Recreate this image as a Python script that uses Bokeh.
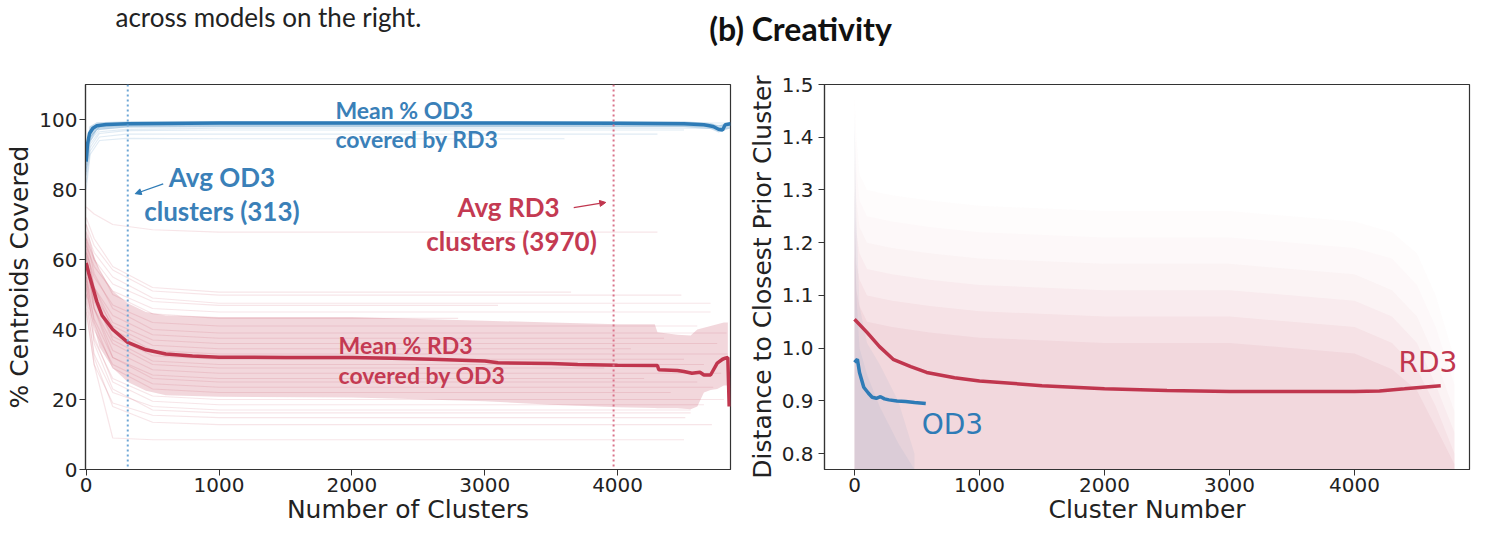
from bokeh.plotting import figure
from bokeh.models import Range1d, Label, Span, Arrow, NormalHead, NumeralTickFormatter, FixedTicker
from bokeh.layouts import column, row
from bokeh.embed import file_html
from bokeh.resources import INLINE

# ---------------- data: left panel (% centroids covered) ----------------
OD3_MEAN_X = [0, 10, 25, 50, 80, 150, 313, 1000, 2000, 3000, 4000, 4500, 4650, 4720, 4760, 4790, 4810, 4850]
OD3_MEAN_Y = [88, 93, 96, 97.5, 98.2, 98.6, 98.8, 99, 99, 99, 98.9, 98.8, 98.5, 98, 97.2, 97, 98.5, 98.8]
OD3_BAND_X = [0, 25, 80, 313, 4500, 4700, 4760, 4850]
OD3_BAND_LO = [84, 93, 97, 97.8, 97.8, 97.3, 96.3, 97.5]
OD3_BAND_HI = [92, 98, 99.2, 99.5, 99.5, 99, 98.3, 99.3]

RD3_MEAN_X = [0, 20, 50, 80, 120, 200, 313, 450, 600, 800, 1000, 1500, 2000, 2300, 2600, 3000, 3100,
              3500, 3700, 4000, 4300, 4310, 4450, 4500, 4560, 4620, 4650, 4700, 4750, 4790, 4810, 4830, 4840]
RD3_MEAN_Y = [59, 56, 52, 48, 44, 40, 36.3, 34.2, 33, 32.4, 32.1, 32, 32, 31.8, 31.5, 31, 30.5,
              30.3, 30, 29.8, 29.7, 28.5, 28.3, 28, 27.5, 27.8, 27, 27, 30.4, 31.5, 31.8, 32, 18]
RD3_BAND_X = [0, 50, 100, 200, 313, 450, 600, 1000, 2000, 2300, 3000, 3500, 4000, 4280, 4300, 4450,
              4550, 4600, 4650, 4700, 4750, 4800, 4830]
RD3_BAND_HI = [68, 62, 57, 51, 47.5, 45, 44, 43.6, 43.6, 43.2, 42.5, 42, 41.5, 41.5, 39.2, 38.5,
               38.3, 40, 40.5, 41, 41.5, 42, 42]
RD3_BAND_LO = [50, 42, 35, 29, 25, 22.5, 21.2, 20.8, 20.6, 20.3, 19.5, 18.5, 17.8, 17.6, 17.5, 17.5,
               17.2, 18, 22, 22.7, 23, 24, 24]

# individual models (faint lines): values at clusters 0, 60, 200, 500, plateau, and last cluster
RD3_MODEL_Y0 = [75, 72, 70, 68, 66, 64, 70, 62, 66, 60, 63, 58, 65, 57, 61, 55, 59, 54, 62, 52, 56, 50, 55, 48, 53, 46, 50, 45]
RD3_MODEL_Y60 = [73, 66, 64, 62, 60, 58, 60, 55, 56, 52, 52, 50, 52, 48, 49, 46, 46, 43, 46, 40, 42, 37, 38, 33, 36, 30, 32, 30]
RD3_MODEL_Y200 = [70, 58, 57, 55, 53, 51, 50, 47, 46, 44, 42, 41, 40, 38, 37, 36, 34, 32, 32, 30, 29, 26, 25, 22, 23, 19, 18, 9]
RD3_MODEL_Y500 = [68.5, 52, 51, 49, 48, 46, 44.5, 42, 40, 38.5, 37, 35.5, 34, 32.5, 31, 30, 28.5, 27, 26, 24.5, 23, 21, 19.5, 18, 17, 15.5, 13.5, 8.5]
RD3_MODEL_PLATEAU = [67.8, 50.7, 49.8, 47.5, 46.9, 45, 43.2, 41, 39, 37.5, 36, 34.5, 33, 31.5, 30, 29, 27.5, 26, 25, 23.5, 22, 20, 18.5, 17, 16.2, 14.8, 12.8, 8.5]
RD3_MODEL_END = [4300, 3650, 4480, 4700, 3100, 4700, 2800, 4600, 4820, 4350, 4750, 4100, 4830, 4500, 4650, 3900, 4780, 4200, 4600, 4720, 4400, 4800, 4650, 4550, 4550, 4510, 4710, 4500]

# values at clusters 0, 30, 100, 300, plateau, and last cluster
OD3_MODEL_Y0 = [85, 82, 88, 80, 86, 90, 84, 87]
OD3_MODEL_Y30 = [93, 91, 95, 90, 94, 96, 92, 95]
OD3_MODEL_Y100 = [96.5, 95, 97.8, 94, 97.2, 98.5, 96, 98]
OD3_MODEL_Y300 = [97.2, 95.8, 98.2, 94.6, 97.8, 98.9, 96.8, 98.5]
OD3_MODEL_PLATEAU = [97.5, 95.8, 98.3, 94.5, 98, 99, 97, 98.6]
OD3_MODEL_END = [4850, 4300, 4800, 3600, 4700, 4850, 4500, 4600]

AVG_OD3_CLUSTERS = 313
AVG_RD3_CLUSTERS = 3970

# ---------------- data: right panel (distance to closest prior cluster) ----------------
RD3_TREND_X = [0, 100, 200, 309, 450, 577, 800, 1000, 1500, 2000, 2500, 3000, 3500, 4000, 4200, 4400, 4690]
RD3_TREND_Y = [1.055, 1.03, 1.003, 0.979, 0.965, 0.954, 0.944, 0.938, 0.929, 0.923, 0.92, 0.918, 0.918, 0.918, 0.919, 0.923, 0.929]
OD3_TREND_X = [0, 23, 40, 74, 110, 141, 175, 208, 240, 275, 340, 409, 480, 570]
OD3_TREND_Y = [0.973, 0.979, 0.954, 0.926, 0.915, 0.907, 0.905, 0.908, 0.904, 0.902, 0.9, 0.899, 0.897, 0.895]

# density envelopes of the scatter clouds (upper edge of each density level)
RD3_CLOUD_X = [0, 15, 40, 100, 300, 600, 1000, 2000, 3000, 4000, 4300, 4500, 4650, 4800]
RD3_CLOUD_LEVELS = [
    [1.48, 1.40, 1.33, 1.30, 1.29, 1.28, 1.27, 1.26, 1.26, 1.24, 1.22, 1.18, 1.10, 0.98],
    [1.42, 1.34, 1.28, 1.25, 1.24, 1.23, 1.22, 1.21, 1.21, 1.19, 1.17, 1.12, 1.04, 0.93],
    [1.36, 1.28, 1.23, 1.20, 1.19, 1.18, 1.17, 1.16, 1.16, 1.14, 1.11, 1.06, 0.98, 0.88],
    [1.30, 1.22, 1.18, 1.15, 1.14, 1.13, 1.12, 1.11, 1.11, 1.09, 1.06, 1.01, 0.93, 0.84],
    [1.24, 1.16, 1.13, 1.10, 1.09, 1.08, 1.07, 1.06, 1.06, 1.04, 1.01, 0.96, 0.89, 0.80],
    [1.18, 1.11, 1.08, 1.05, 1.04, 1.03, 1.02, 1.01, 1.01, 0.99, 0.96, 0.92, 0.85, 0.78],
]
RD3_CLOUD_ALPHA = [0.02, 0.025, 0.03, 0.045, 0.06, 0.07]
OD3_CLOUD_X = [0, 15, 40, 100, 200, 350, 480]
OD3_CLOUD_LEVELS = [
    [1.45, 1.25, 1.08, 1.01, 0.97, 0.90, 0.80],
    [1.30, 1.10, 1.00, 0.95, 0.89, 0.82, 0.77],
]
OD3_CLOUD_ALPHA = [0.07, 0.08]

BLUE = "#2e7bb6"
RED = "#c0364e"
BLUE_TXT = "#3a80b8"
RED_TXT = "#c43a52"
TICK_FONT = "DejaVu Sans"
ANN_FONT = "Lato"


def style_axes(p):
    p.xgrid.visible = False
    p.ygrid.visible = False
    p.outline_line_color = "#333333"
    p.outline_line_width = 1.2
    p.background_fill_color = "white"
    p.border_fill_color = "white"
    for ax in (p.xaxis[0], p.yaxis[0]):
        ax.axis_line_color = "#333333"
        ax.axis_line_width = 1.2
        ax.major_tick_out = 6
        ax.major_tick_in = 0
        ax.minor_tick_out = 0
        ax.minor_tick_in = 0
        ax.major_tick_line_color = "#333333"
        ax.major_label_text_font = TICK_FONT
        ax.major_label_text_font_size = "20px"
        ax.major_label_text_color = "#222222"
        ax.axis_label_text_font = TICK_FONT
        ax.axis_label_text_font_size = "25px"
        ax.axis_label_text_font_style = "normal"
        ax.axis_label_text_color = "#222222"


TOP_H = 60        # caption/title strip
ROW_H = 475       # panels
W_LEFT = 740
W_RIGHT = 748

# ---------------- top strip with caption and title (data units = page pixels) ----------------
top = figure(width=W_LEFT + W_RIGHT, height=TOP_H, x_range=Range1d(0, W_LEFT + W_RIGHT),
             y_range=Range1d(TOP_H, 0),
             output_backend="svg", toolbar_location=None, x_axis_location=None, y_axis_location=None,
             min_border=0, outline_line_color=None)
top.xgrid.visible = False
top.ygrid.visible = False
top.add_layout(Label(x=115, y=16, text="across models on the right.", text_font=ANN_FONT,
                     text_font_size="26px", text_color="#222222", text_baseline="alphabetic"))
top.add_layout(Label(x=800, y=28, text="(b) Creativity", text_font=ANN_FONT, text_font_style="bold",
                     text_font_size="32px", text_color="#111111", text_align="center",
                     text_baseline="alphabetic"))

# ---------------- left panel ----------------
p1 = figure(width=W_LEFT, height=ROW_H, x_range=Range1d(-5, 4850), y_range=Range1d(0, 110),
            output_backend="svg", toolbar_location=None,
            min_border_left=85, min_border_right=10, min_border_top=24, min_border_bottom=65)
style_axes(p1)
p1.xaxis.axis_label = "Number of Clusters"
p1.yaxis.axis_label = "% Centroids Covered"
p1.xaxis.ticker = FixedTicker(ticks=[0, 1000, 2000, 3000, 4000])
p1.yaxis.ticker = FixedTicker(ticks=[0, 20, 40, 60, 80, 100])
p1.xaxis.major_label_standoff = 2
p1.yaxis.major_label_standoff = 2
p1.xaxis.axis_label_standoff = 0
p1.yaxis.axis_label_standoff = 2

p1.varea(x=RD3_BAND_X, y1=RD3_BAND_LO, y2=RD3_BAND_HI, fill_color=RED, fill_alpha=0.2)
for i in range(len(RD3_MODEL_END)):
    xs = [0, 60, 200, 500, 1000, RD3_MODEL_END[i]]
    ys = [RD3_MODEL_Y0[i], RD3_MODEL_Y60[i], RD3_MODEL_Y200[i], RD3_MODEL_Y500[i],
          RD3_MODEL_PLATEAU[i], RD3_MODEL_PLATEAU[i]]
    p1.line(xs, ys, line_color=RED, line_alpha=0.13, line_width=1.2)

p1.varea(x=OD3_BAND_X, y1=OD3_BAND_LO, y2=OD3_BAND_HI, fill_color=BLUE, fill_alpha=0.25)
for i in range(len(OD3_MODEL_END)):
    xs = [0, 30, 100, 300, 1000, OD3_MODEL_END[i]]
    ys = [OD3_MODEL_Y0[i], OD3_MODEL_Y30[i], OD3_MODEL_Y100[i], OD3_MODEL_Y300[i],
          OD3_MODEL_PLATEAU[i], OD3_MODEL_PLATEAU[i]]
    p1.line(xs, ys, line_color=BLUE, line_alpha=0.15, line_width=1.2)

p1.line(RD3_MEAN_X, RD3_MEAN_Y, line_color=RED, line_width=3.5)
p1.line(OD3_MEAN_X, OD3_MEAN_Y, line_color=BLUE, line_width=3.5)

p1.add_layout(Span(location=AVG_OD3_CLUSTERS, dimension="height", line_color="#6da6d6",
                   line_width=2, line_dash="2 3"))
p1.add_layout(Span(location=AVG_RD3_CLUSTERS, dimension="height", line_color="#d9738a",
                   line_width=2, line_dash="2 3"))


def ann(p, x, y, text, color, align="left", size="23px"):
    p.add_layout(Label(x=x, y=y, text=text, text_font=ANN_FONT, text_font_style="bold",
                       text_font_size=size, text_color=color, text_align=align,
                       text_baseline="alphabetic"))


ann(p1, 1876, 102.8, "Mean % OD3", BLUE_TXT)
ann(p1, 1876, 94.3, "covered by RD3", BLUE_TXT)
ann(p1, 1022, 83.5, "Avg OD3", BLUE_TXT, "center", "26px")
ann(p1, 1022, 73.8, "clusters (313)", BLUE_TXT, "center", "26px")
ann(p1, 3179, 74.9, "Avg RD3", RED_TXT, "center", "26px")
ann(p1, 3202, 65.2, "clusters (3970)", RED_TXT, "center", "26px")
ann(p1, 1900, 35.6, "Mean % RD3", RED_TXT)
ann(p1, 1900, 26.9, "covered by OD3", RED_TXT)

p1.add_layout(Arrow(end=NormalHead(size=6, fill_color=BLUE, line_color=BLUE),
                    x_start=580, y_start=81.6, x_end=369, y_end=78.8,
                    line_color=BLUE, line_width=1.2))
p1.add_layout(Arrow(end=NormalHead(size=6, fill_color=RED, line_color=RED),
                    x_start=3670, y_start=74.8, x_end=3911, y_end=76.3,
                    line_color=RED, line_width=1.2))

# ---------------- right panel ----------------
p2 = figure(width=W_RIGHT, height=ROW_H, x_range=Range1d(-240, 4920), y_range=Range1d(0.77, 1.5),
            output_backend="svg", toolbar_location=None,
            min_border_left=84, min_border_right=19, min_border_top=22, min_border_bottom=66)
style_axes(p2)
p2.xaxis.axis_label = "Cluster Number"
p2.yaxis.axis_label = "Distance to Closest Prior Cluster"
p2.xaxis.ticker = FixedTicker(ticks=[0, 1000, 2000, 3000, 4000])
p2.yaxis.ticker = FixedTicker(ticks=[0.8, 0.9, 1.0, 1.1, 1.2, 1.3, 1.4, 1.5])
p2.yaxis.formatter = NumeralTickFormatter(format="0.0")
p2.xaxis.major_label_standoff = 2
p2.yaxis.major_label_standoff = 5
p2.xaxis.axis_label_standoff = 0
p2.yaxis.axis_label_standoff = 2

for lvl, a in zip(RD3_CLOUD_LEVELS, RD3_CLOUD_ALPHA):
    p2.varea(x=RD3_CLOUD_X, y1=[0.7] * len(RD3_CLOUD_X), y2=lvl, fill_color="#c8506e", fill_alpha=a)
for lvl, a in zip(OD3_CLOUD_LEVELS, OD3_CLOUD_ALPHA):
    p2.varea(x=OD3_CLOUD_X, y1=[0.7] * len(OD3_CLOUD_X), y2=lvl, fill_color="#5b8fb9", fill_alpha=a)

p2.line(RD3_TREND_X, RD3_TREND_Y, line_color=RED, line_width=3.5)
p2.line(OD3_TREND_X, OD3_TREND_Y, line_color=BLUE, line_width=3.5)

p2.add_layout(Label(x=538, y=0.855, text="OD3", text_font=TICK_FONT, text_font_size="28px",
                    text_color=BLUE, text_baseline="alphabetic"))
p2.add_layout(Label(x=4352, y=0.973, text="RD3", text_font=TICK_FONT, text_font_size="28px",
                    text_color=RED, text_baseline="alphabetic"))

layout = column(top, row(p1, p2, spacing=0), spacing=0)
open("out.html", "w").write(file_html(layout, INLINE))
